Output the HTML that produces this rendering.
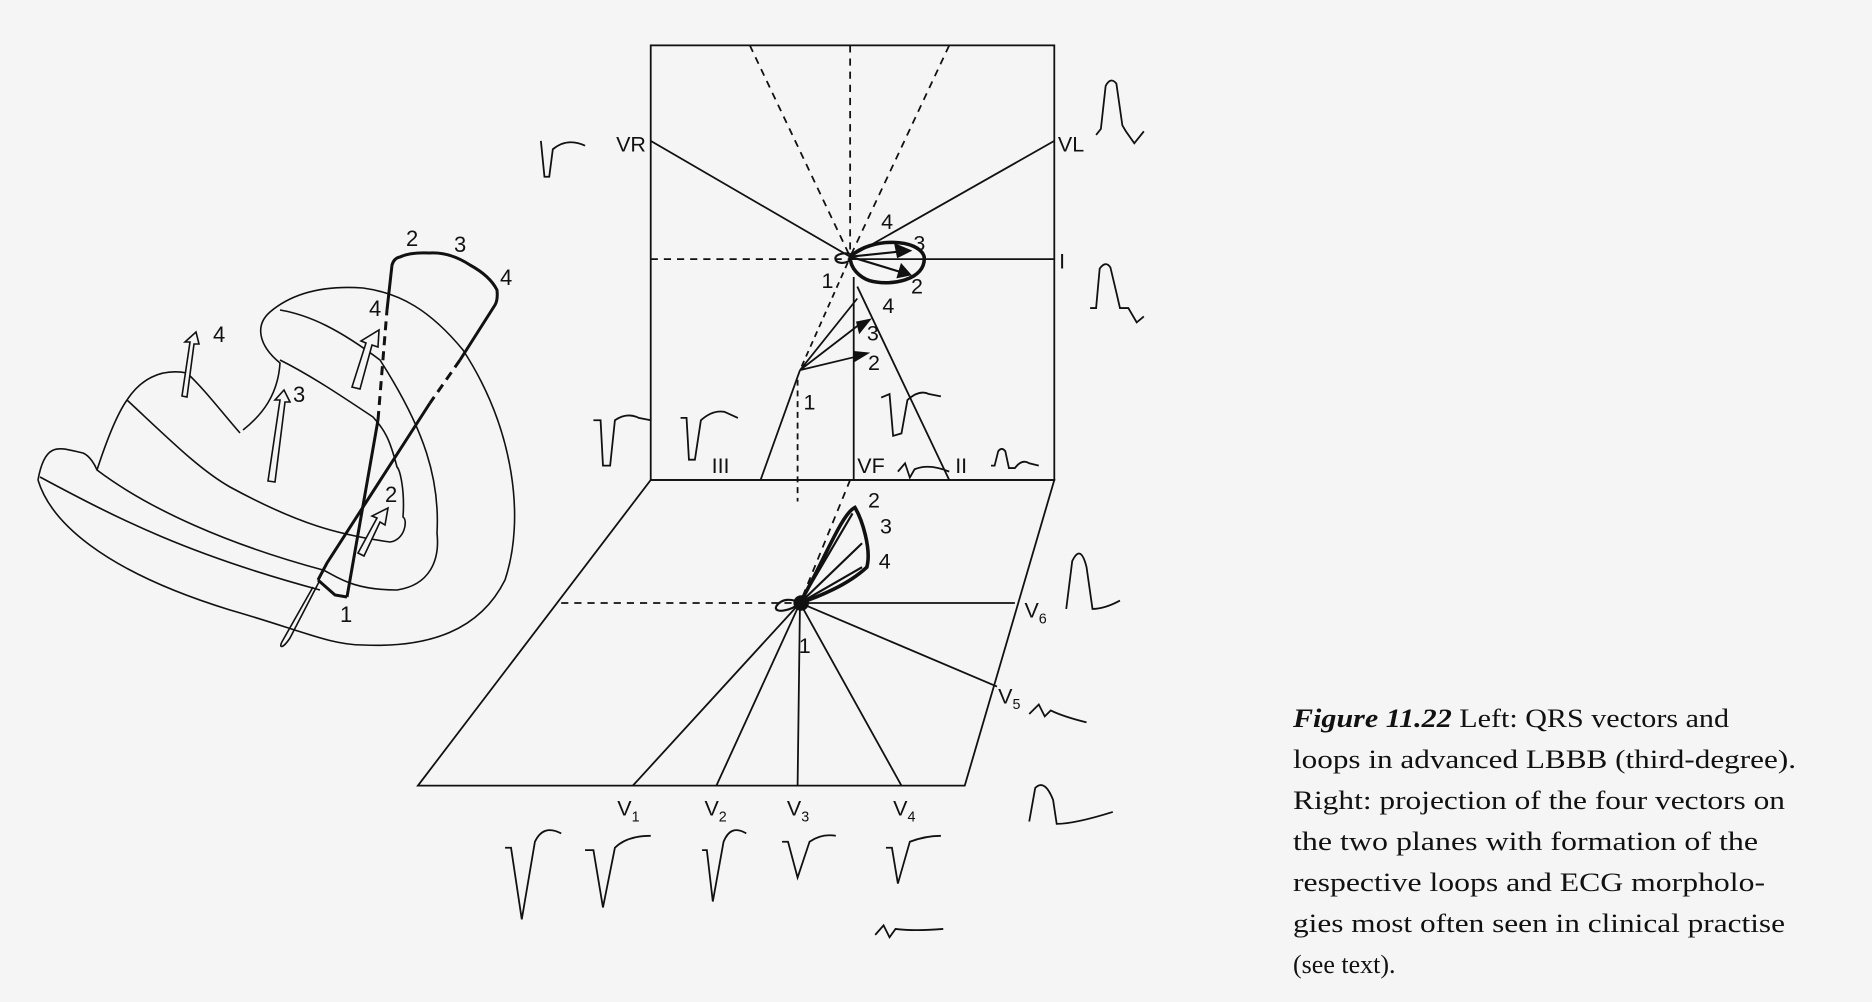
<!DOCTYPE html>
<html><head><meta charset="utf-8"><style>
html,body{margin:0;padding:0;background:#f5f5f5;}
svg{display:block}
text{font-family:"Liberation Sans",sans-serif;fill:#111}
.cap text{font-family:"Liberation Serif",serif;font-size:26px}
</style></head><body>
<svg width="1872" height="1002" viewBox="0 0 1872 1002" xmlns="http://www.w3.org/2000/svg">
<rect width="1872" height="1002" fill="#f5f5f5"/>
<!-- Heart (real coords) -->
<g fill="none" stroke="#111" stroke-width="1.6">
<path d="M38,480 C45,440 60,448 83,453 C90,456 95,465 97,470 C150,510 230,545 323,570 C335,575 350,590 397,590 C430,585 440,560 437,533 C440,480 425,430 380,360 C340,330 310,315 280,310"/>
<path d="M38,480 C50,520 100,570 230,610 C300,630 330,645 363,645 C430,648 480,630 505,580 C525,520 515,430 463,350 C430,310 400,293 363,288 C320,285 290,295 270,312 C255,325 258,345 280,363 C278,395 262,415 243,430"/>
<path d="M40,477 C120,520 190,555 320,590"/>
<path d="M97,470 C110,430 120,410 127,400 C140,380 160,368 187,373 C205,390 220,410 240,433"/>
<path d="M127,400 C170,440 200,470 230,487 C300,525 340,535 390,542 C405,540 408,520 403,517 C405,490 400,470 397,467 C390,440 385,430 373,417 C340,395 310,375 280,360"/>
<path d="M313,587 L283,640 C278,648 282,650 290,638 L320,580"/>
</g>
<g fill="none" stroke="#111" stroke-width="3">
<path d="M347,597 L378,420"/>
<path d="M378,420 L387,310" stroke-dasharray="9,6"/>
<path d="M387,310 L392,265 Q394,258 400,257 Q410,252 430,253 Q450,252 470,265 Q490,276 497,290 Q498,300 495,305 L460,360"/>
<path d="M460,360 L430,403" stroke-dasharray="9,6"/>
<path d="M430,403 L327,563 L318,580"/>
<path d="M318,580 L335,595 L347,597"/>
</g>
<g fill="#f5f5f5" stroke="#111" stroke-width="1.6">
<path d="M182,396 L190,342 L185,342 L196,332 L199,344 L194,344 L187,397 Z"/>
<path d="M268,481 L280,400 L275,400 L284,390 L290,402 L285,402 L275,482 Z"/>
<path d="M352,387 L366,343 L361,341 L379,330 L378,347 L372,345 L360,389 Z"/>
<path d="M358,553 L377,518 L372,516 L388,508 L385,525 L380,522 L364,556 Z"/>
</g>
<g font-size="22">
<text x="213" y="342">4</text><text x="293" y="402">3</text><text x="369" y="316">4</text>
<text x="385" y="502">2</text><text x="340" y="622">1</text>
<text x="406" y="246">2</text><text x="454" y="252">3</text><text x="500" y="285">4</text>
</g>
<!-- Right diagram (displayed coords scaled) -->
<g transform="scale(1.194)">
<g fill="none" stroke="#111" stroke-width="1.5">
<rect x="545" y="38" width="338" height="364"/>
<path d="M545,118 L712,215 L883,118"/>
<path d="M712,217 L883,217"/>
<path d="M545,217 L712,217 M628,38 L712,215 L795,38 M712,38 L712,215" stroke-dasharray="6,5"/>
<path d="M670,310 L637,402 M715,232 L715,402 M718,240 L795,402"/>
<path d="M545,402 L883,402 L808,658 L350,658 Z"/>
<path d="M470,505 L670,505" stroke-dasharray="6,5"/>
<path d="M712,402 L670,505" stroke-dasharray="6,5"/>
<path d="M668,318 L668,420" stroke-dasharray="5,4"/>
<path d="M670,505 L850,505 M670,505 L835,575 M670,505 L755,658 M670,505 L668,658 M670,505 L600,658 M670,505 L530,658"/>
<path d="M710,220 L670,310" stroke-dasharray="5,4"/>
<path d="M670,310 L718,250 M670,310 L722,270 M670,310 L720,298"/>
</g>
<g fill="none" stroke="#111" stroke-width="3">
<path d="M712,215 C730,198 770,200 774,215 C776,235 745,240 728,235 C720,232 712,225 712,215"/>
<path d="M670,505 C690,470 705,430 716,425 C722,435 730,460 726,475 C710,490 685,500 670,505"/>
<circle cx="671" cy="505" r="5" fill="#111"/>
</g>
<g stroke="#111" stroke-width="1.8" fill="#111">
<path d="M712,215 L755,228" fill="none"/><path d="M755,222 L762,230 L752,232 Z"/>
<path d="M712,215 L760,210" fill="none"/><path d="M750,205 L762,210 L752,215 Z"/>
<path d="M670,505 L714,430" fill="none"/><path d="M670,505 L722,455" fill="none"/><path d="M670,505 L722,475" fill="none"/>
<path d="M718,270 L728,268 L720,278 Z"/><path d="M716,295 L726,296 L716,302 Z"/>
<path d="M700,215 C704,210 720,212 712,218 C706,222 698,220 700,215" fill="none"/>
<path d="M650,508 C655,500 665,502 670,505 C662,512 648,514 650,508" fill="none"/>
</g>
<g font-size="18">
<text x="516" y="127">VR</text><text x="886" y="127">VL</text><text x="887" y="225">I</text>
<text x="738" y="192">4</text><text x="765" y="210">3</text><text x="763" y="246">2</text><text x="688" y="241">1</text>
<text x="739" y="262">4</text><text x="726" y="285">3</text><text x="727" y="310">2</text><text x="673" y="343">1</text>
<text x="596" y="396">III</text><text x="718" y="396">VF</text><text x="800" y="396">II</text>
<text x="727" y="425">2</text><text x="737" y="447">3</text><text x="736" y="476">4</text><text x="669" y="547">1</text>
<text x="858" y="517">V<tspan font-size="12" dy="5">6</tspan></text>
<text x="836" y="589">V<tspan font-size="12" dy="5">5</tspan></text>
<text x="517" y="683">V<tspan font-size="12" dy="5">1</tspan></text>
<text x="590" y="683">V<tspan font-size="12" dy="5">2</tspan></text>
<text x="659" y="683">V<tspan font-size="12" dy="5">3</tspan></text>
<text x="748" y="683">V<tspan font-size="12" dy="5">4</tspan></text>
</g>
<g fill="none" stroke="#111" stroke-width="1.5">
<path d="M453,118 L456,148 L460,148 L463,125 Q475,115 490,122"/>
<path d="M918,113 L922,108 L926,72 Q930,64 935,70 L940,105 L943,110 L950,120 L958,110"/>
<path d="M913,258 L918,258 L921,225 Q926,218 930,224 L935,245 L938,258 L945,258 L952,270 L958,265"/>
<path d="M497,352 L503,352 L505,390 L511,390 L515,352 Q525,345 535,350 L545,352"/>
<path d="M570,350 L575,350 L577,385 L582,385 L587,352 Q597,343 607,345 L618,350"/>
<path d="M738,333 L745,330 L748,365 L755,363 L760,335 Q770,326 778,330 L788,332"/>
<path d="M752,395 L758,388 L762,400 L766,393 Q778,388 795,395"/>
<path d="M830,390 L833,390 L836,378 Q839,374 842,378 L845,392 L850,392 Q856,384 862,388 L870,390"/>
<path d="M893,510 L898,470 Q905,455 910,475 L915,510 Q925,510 938,503"/>
<path d="M862,598 L870,590 L875,600 L880,595 Q890,600 910,605"/>
<path d="M862,688 L867,660 Q875,652 882,670 L885,690 Q900,690 932,680"/>
<path d="M423,710 L428,710 L437,770 L448,705 Q455,690 470,698"/>
<path d="M490,712 L497,712 L505,760 L515,710 Q525,700 545,700"/>
<path d="M588,712 L592,712 L597,755 L606,705 Q612,690 625,698"/>
<path d="M655,705 L660,705 L668,735 L678,705 Q688,698 700,700"/>
<path d="M742,710 L747,710 L752,740 L762,705 Q775,700 788,700"/>
<path d="M733,783 L740,775 L745,785 L750,778 Q765,780 790,778"/>
</g>
</g>
<!-- Caption -->
<g class="cap">
<text x="1293" y="727" textLength="436" lengthAdjust="spacingAndGlyphs"><tspan font-style="italic" font-weight="bold">Figure 11.22</tspan>  Left: QRS vectors and</text>
<text x="1293" y="768" textLength="503" lengthAdjust="spacingAndGlyphs">loops in advanced LBBB (third-degree).</text>
<text x="1293" y="809" textLength="492" lengthAdjust="spacingAndGlyphs">Right: projection of the four vectors on</text>
<text x="1293" y="850" textLength="465" lengthAdjust="spacingAndGlyphs">the two planes with formation of the</text>
<text x="1293" y="891" textLength="472" lengthAdjust="spacingAndGlyphs">respective loops and ECG morpholo-</text>
<text x="1293" y="932" textLength="492" lengthAdjust="spacingAndGlyphs">gies most often seen in clinical practise</text>
<text x="1293" y="973">(see text).</text>
</g>
</svg>
</body></html>
